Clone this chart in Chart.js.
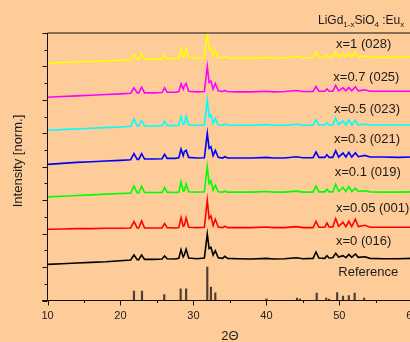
<!DOCTYPE html>
<html>
<head>
<meta charset="utf-8">
<script src="https://cdn.jsdelivr.net/npm/chart.js@4"></script>
<style>
  html, body { margin: 0; padding: 0; background: #fdcc99; overflow: hidden; }
</style>
</head>
<body>
<canvas id="xrd" width="440" height="342"></canvas>
<script>
// angles (2 theta) shared by all measured patterns
const twoTheta = [10, 12, 14, 16, 18, 20, 21.4, 21.85, 22.3, 22.5, 22.9, 23.3, 24.5, 25.7, 26.05, 26.4,
  27.5, 28.0, 28.3, 28.6, 28.75, 29.0, 29.35, 30.5, 31.5, 31.9, 32.15, 32.4, 32.7, 33.0, 33.4, 34.0,
  34.3, 34.7, 36, 38, 40.0, 41, 42.5, 44.1, 45, 46.4, 46.8, 47.2, 48.0, 48.3, 48.6, 49.1,
  49.5, 49.9, 50.5, 50.9, 51.3, 51.7, 52.2, 52.6, 53.5, 54.2, 56, 58, 60];

// normalized intensities (main peak = 1)
const x000 = [.08, .10, .12, .14, .16, .19, .21, .36, .22, .22, .36, .23, .23, .24, .33, .25,
  .24, .26, .52, .30, .36, .53, .27, .25, .27, .99, .55, .59, .36, .49, .28, .26,
  .32, .26, .25, .24, .26, .24, .25, .28, .25, .26, .45, .27, .26, .34, .27, .28,
  .41, .30, .34, .28, .38, .29, .39, .29, .31, .26, .25, .25, .26];
const x005 = [.13, .14, .15, .15, .16, .16, .17, .36, .17, .17, .38, .17, .17, .17, .30, .18,
  .17, .18, .48, .22, .24, .47, .19, .18, .19, 1.0, .45, .53, .24, .43, .20, .18,
  .22, .18, .18, .18, .20, .18, .18, .21, .18, .18, .37, .19, .19, .32, .20, .20,
  .45, .22, .34, .21, .37, .21, .43, .21, .25, .19, .19, .19, .19];
const x010 = [.10, .12, .14, .16, .18, .20, .21, .42, .22, .22, .42, .23, .23, .23, .38, .24,
  .23, .24, .55, .27, .28, .48, .25, .24, .25, 1.0, .50, .58, .30, .45, .25, .24,
  .27, .24, .24, .24, .26, .24, .24, .27, .24, .24, .42, .25, .25, .33, .25, .25,
  .48, .26, .38, .26, .41, .26, .36, .26, .28, .25, .24, .24, .25];
const x030 = [.07, .10, .13, .15, .17, .19, .21, .39, .22, .22, .39, .23, .23, .24, .37, .25,
  .25, .27, .53, .33, .45, .49, .28, .26, .27, 1.0, .55, .60, .33, .49, .28, .26,
  .30, .26, .26, .26, .28, .26, .26, .30, .27, .27, .44, .28, .28, .36, .28, .28,
  .48, .29, .41, .29, .43, .29, .42, .30, .34, .29, .29, .28, .29];
const x050 = [.09, .11, .13, .15, .17, .19, .21, .43, .22, .22, .38, .22, .22, .23, .36, .23,
  .23, .24, .50, .26, .28, .52, .25, .24, .25, 1.0, .50, .56, .30, .45, .25, .24,
  .28, .24, .24, .24, .26, .24, .24, .27, .24, .24, .41, .25, .25, .32, .25, .25,
  .46, .26, .37, .25, .40, .25, .39, .25, .28, .25, .25, .25, .25];
const x070 = [.08, .10, .12, .14, .16, .18, .20, .36, .21, .21, .38, .21, .21, .22, .36, .23,
  .23, .25, .48, .32, .42, .49, .26, .24, .25, 1.0, .52, .56, .32, .49, .27, .25,
  .28, .25, .24, .24, .26, .24, .25, .28, .25, .25, .40, .26, .26, .33, .26, .26,
  .43, .27, .36, .27, .37, .27, .39, .27, .30, .26, .26, .26, .26];
const x100 = [.10, .12, .14, .15, .17, .18, .20, .37, .21, .21, .39, .21, .22, .22, .34, .23,
  .24, .25, .51, .27, .29, .54, .26, .25, .26, 1.0, .52, .56, .32, .48, .27, .26,
  .29, .26, .25, .25, .27, .25, .26, .29, .26, .26, .43, .27, .27, .35, .27, .27,
  .45, .28, .38, .28, .41, .28, .43, .28, .31, .27, .27, .27, .28];

const patterns = [x000, x005, x010, x030, x050, x070, x100];
const offsets = [1, 2, 3, 4, 5, 6, 7];
const colors = ['#000000', '#ff0000', '#00ff00', '#0000ff', '#00ffff', '#ff00ff', '#ffff00'];
const seriesLabels = ['x=0 (016)', 'x=0.05 (001)', 'x=0.1 (019)', 'x=0.3 (021)', 'x=0.5 (023)', 'x=0.7 (025)', 'x=1 (028)'];

// reference pattern (sticks)
const refPos = [21.85, 22.95, 26.0, 28.25, 29.0, 31.9, 32.4, 33.0, 40.0, 44.2, 44.6, 46.9, 48.2, 48.6, 49.7, 50.5, 51.3, 52.1, 53.4];
const refHeight = [.28, .28, .18, .35, .35, 1.0, .40, .23, .05, .07, .04, .22, .07, .04, .24, .13, .15, .22, .07];

const xTicks = [10, 20, 30, 40, 50, 60];

const FONT = '"Liberation Sans", Arial, sans-serif';

// datasets
const datasets = patterns.map((p, i) => ({
  label: seriesLabels[i],
  data: twoTheta.map((t, k) => ({ x: t, y: offsets[i] + p[k] })),
  borderColor: colors[i],
  borderWidth: 1.6,
  pointRadius: 0,
  tension: 0,
  fill: false
}));
datasets.push({
  type: 'bar',
  label: 'Reference',
  data: refPos.map((p, i) => ({ x: p, y: refHeight[i] })),
  backgroundColor: '#4d3f33',
  barThickness: 1.5,
  grouped: false
});

// axes frame, ticks and texts
const frame = {
  id: 'frame',
  beforeDraw(chart) {
    const ctx = chart.ctx;
    ctx.save();
    ctx.fillStyle = '#fdcc99';
    ctx.fillRect(0, 0, chart.width, chart.height);
    ctx.restore();
  },
  afterDatasetsDraw(chart) {
    const ctx = chart.ctx;
    const a = chart.chartArea;
    const xs = chart.scales.x, ys = chart.scales.y;
    ctx.save();
    ctx.strokeStyle = '#111';
    ctx.lineWidth = 1;
    // frame
    ctx.beginPath();
    ctx.moveTo(42, a.bottom); ctx.lineTo(a.right, a.bottom);
    ctx.moveTo(a.left, a.bottom); ctx.lineTo(a.left, a.top);
    ctx.lineTo(a.right, a.top); ctx.lineTo(a.right, a.bottom);
    ctx.stroke();
    // x ticks
    ctx.beginPath();
    for (let v = 10; v <= 60; v += 5) {
      const px = Math.round(xs.getPixelForValue(v)) + 0.5;
      const len = v % 10 === 0 ? 5 : 2.5;
      ctx.moveTo(px, a.bottom); ctx.lineTo(px, a.bottom + len);
    }
    // y ticks
    for (let v = 0; v <= 8; v += 0.5) {
      const py = Math.round(ys.getPixelForValue(v)) + 0.5;
      const len = v % 1 === 0 ? 5 : 3;
      ctx.moveTo(a.left, py); ctx.lineTo(a.left - len, py);
    }
    ctx.stroke();

    // series labels
    ctx.fillStyle = '#1a1a1a';
    ctx.font = '13px ' + FONT;
    ctx.textBaseline = 'middle';
    ctx.textAlign = 'left';
    const lp = [[336, 241.7], [336, 208.7], [334.7, 172.7], [334, 139.7], [334, 109.3], [333.3, 77.3], [336, 44]];
    seriesLabels.forEach((s, i) => ctx.fillText(s, lp[i][0], lp[i][1]));
    ctx.fillText('Reference', 338.3, 272.3);

    // y title
    ctx.save();
    ctx.translate(18, 161);
    ctx.rotate(-Math.PI / 2);
    ctx.textAlign = 'center';
    ctx.fillText('Intensity [norm.]', 0, 0);
    ctx.restore();

    // compound title with subscripts
    const parts = [['LiGd', 0], ['1-x', 1], ['SiO', 0], ['4', 1], [' :Eu', 0], ['x', 1]];
    let x = 318;
    ctx.textBaseline = 'alphabetic';
    parts.forEach(([t, sub]) => {
      ctx.font = (sub ? '8px ' : '12px ') + FONT;
      ctx.fillText(t, x, sub ? 27 : 24);
      x += ctx.measureText(t).width;
    });
    ctx.restore();
  }
};

const config = {
  type: 'line',
  data: { datasets: datasets },
  options: {
    responsive: false,
    animation: false,
    layout: { padding: { left: 47.5, right: 27.7, top: 33, bottom: 0 } },
    plugins: { legend: { display: false }, tooltip: { enabled: false } },
    scales: {
      x: {
        type: 'linear',
        min: 10,
        max: 60,
        offset: false,
        grid: { display: false, drawTicks: false },
        border: { display: false },
        afterBuildTicks: (s) => { s.ticks = xTicks.map(v => ({ value: v })); },
        ticks: { color: '#222', font: { family: FONT, size: 11 }, padding: 9, maxRotation: 0, autoSkip: false },
        title: { display: true, text: '2Θ', color: '#222', font: { family: FONT, size: 13, lineHeight: 0.92 }, padding: 0 },
        afterFit: (s) => { s.height = 41.5; }
      },
      y: { display: false, min: 0, max: 8 }
    }
  },
  plugins: [frame]
};

let chart = new Chart(document.getElementById('xrd').getContext('2d'), config);
</script>
</body>
</html>
